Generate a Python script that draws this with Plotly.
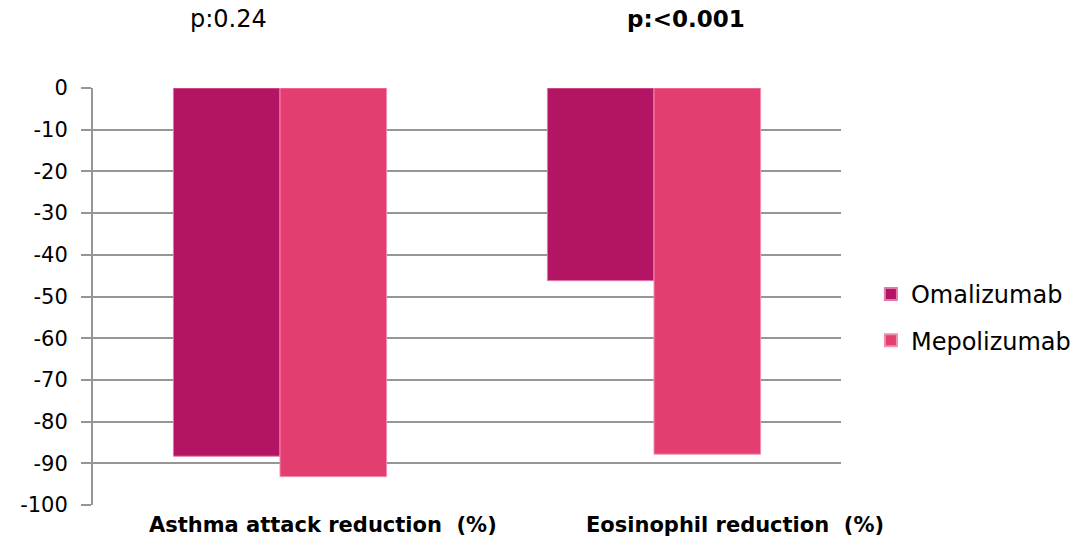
import plotly.graph_objects as go

categories = ["Asthma attack reduction  (%)", "Eosinophil reduction  (%)"]
omalizumab = [-88.3, -46.2]
mepolizumab = [-93.2, -87.8]
p_values = ["p:0.24", "<b>p:<0.001</b>"]
y_ticks = [0, -10, -20, -30, -40, -50, -60, -70, -80, -90, -100]
y_tick_text = [str(v) for v in y_ticks]

FONT = "DejaVu Sans"
GRID = "#969696"

fig = go.Figure()
fig.add_trace(go.Bar(
    name="Omalizumab", x=categories, y=omalizumab, legendgroup="a",
    marker=dict(color="#B31464", line=dict(color="#e07aa8", width=1)),
))
fig.add_trace(go.Bar(
    name="Mepolizumab", x=categories, y=mepolizumab, legendgroup="b",
    marker=dict(color="#E33E6F", line=dict(color="#f08fb0", width=1)),
))

# category labels sit below the plot area, bold
label_shift = [43, 81]
for cat, sh in zip(categories, label_shift):
    fig.add_annotation(x=cat, xref="x", y=0, yref="paper", yanchor="top",
                       yshift=-6, xshift=sh, text=f"<b>{cat}</b>", showarrow=False,
                       font=dict(family=FONT, size=21, color="#000"))

# p-value captions above each group
for cat, pv, sh, fs in zip(categories, p_values, [-52, 32], [24, 23]):
    fig.add_annotation(x=cat, xref="x", y=1.165, yref="paper", yanchor="middle",
                       xshift=sh, text=pv, showarrow=False,
                       font=dict(family=FONT, size=fs, color="#000"))

fig.update_layout(
    width=1084, height=543,
    margin=dict(l=93, r=243, t=88, b=38, autoexpand=False),
    paper_bgcolor="white", plot_bgcolor="white",
    barmode="group", bargap=0.43, bargroupgap=0,
    font=dict(family=FONT, size=20, color="#000"),
    legend=dict(x=1.04, y=0.45, xanchor="left", yanchor="middle",
                font=dict(family=FONT, size=24), itemsizing="constant",
                tracegroupgap=12),
    showlegend=True,
)
fig.update_xaxes(range=[-0.5, 1.5], autorange=False, showticklabels=False,
                 showline=False, showgrid=False, ticks="")
fig.update_yaxes(
    range=[-100, 0], tickvals=y_ticks, ticktext=y_tick_text,
    showgrid=True, gridcolor=GRID, gridwidth=2,
    showline=True, linecolor=GRID, linewidth=2,
    ticks="outside", ticklen=10, tickcolor=GRID, tickwidth=2,
    ticklabelstandoff=9,
    zeroline=False, tickfont=dict(family=FONT, size=21, color="#000"),
)

fig.write_html("out.html")
